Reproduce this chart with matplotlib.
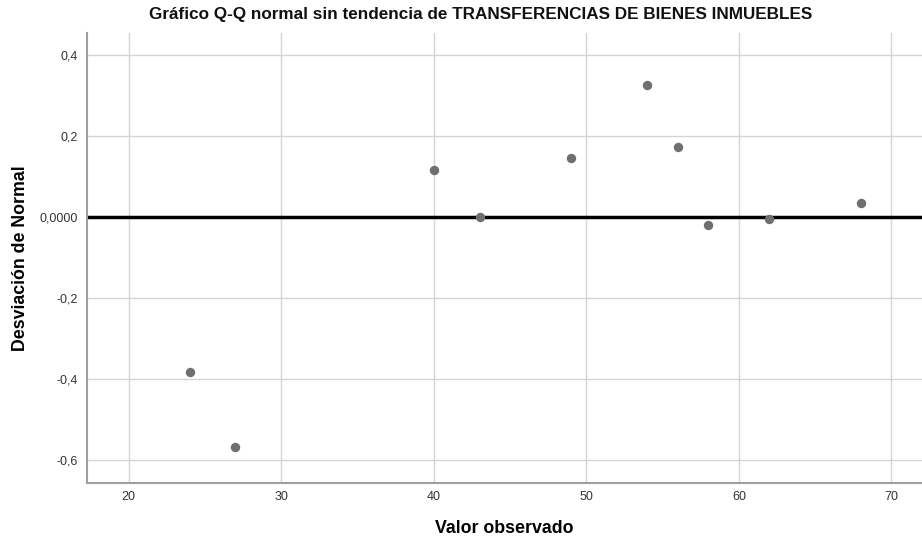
import matplotlib
matplotlib.use('Agg')
import matplotlib.pyplot as plt
from matplotlib.ticker import FuncFormatter

plt.rcParams['font.family'] = ['Liberation Sans', 'DejaVu Sans']

# Valores observados y desviaciones de la normal
valor_observado = [24, 27, 40, 43, 49, 54, 56, 58, 62, 68]
desviacion = [-0.383, -0.568, 0.116, 0.000, 0.146, 0.325, 0.174, -0.019, -0.004, 0.035]

x_ticks = [20, 30, 40, 50, 60, 70]
y_ticks = [-0.6, -0.4, -0.2, 0.0, 0.2, 0.4]

fig = plt.figure(figsize=(9.22, 5.44), dpi=100)
ax = fig.add_axes([0.094, 0.112, 0.906, 0.827])

ax.grid(True, color='#d4d4d4', linewidth=1)
ax.set_axisbelow(True)
ax.axhline(0, color='black', linewidth=2.5, zorder=2)
ax.scatter(valor_observado, desviacion, s=46, color='#6f6f6f', zorder=3, linewidths=0)

ax.set_xlim(17.25, 72)
ax.set_ylim(-0.657, 0.454)
ax.set_xticks(x_ticks)
ax.set_yticks(y_ticks)


def fmt_y(v, pos):
    if abs(v) < 1e-9:
        return '0,0000'
    return ('%.1f' % v).replace('.', ',')


ax.yaxis.set_major_formatter(FuncFormatter(fmt_y))
ax.tick_params(axis='both', length=0, labelsize=9, colors='#333333', pad=6)

for s in ['top', 'right']:
    ax.spines[s].set_visible(False)
for s in ['left', 'bottom']:
    ax.spines[s].set_color('#a0a0a0')
    ax.spines[s].set_linewidth(1.5)

fig.text(0.521, 0.974, 'Gráfico Q-Q normal sin tendencia de TRANSFERENCIAS DE BIENES INMUEBLES',
         fontsize=12.3, fontweight='bold', color='#111111', ha='center', va='center')
ax.set_xlabel('Valor observado', fontsize=12.8, fontweight='bold', labelpad=12)
ax.set_ylabel('Desviación de Normal', fontsize=12.8, fontweight='bold', labelpad=8)

plt.savefig('out.png', dpi=100)
